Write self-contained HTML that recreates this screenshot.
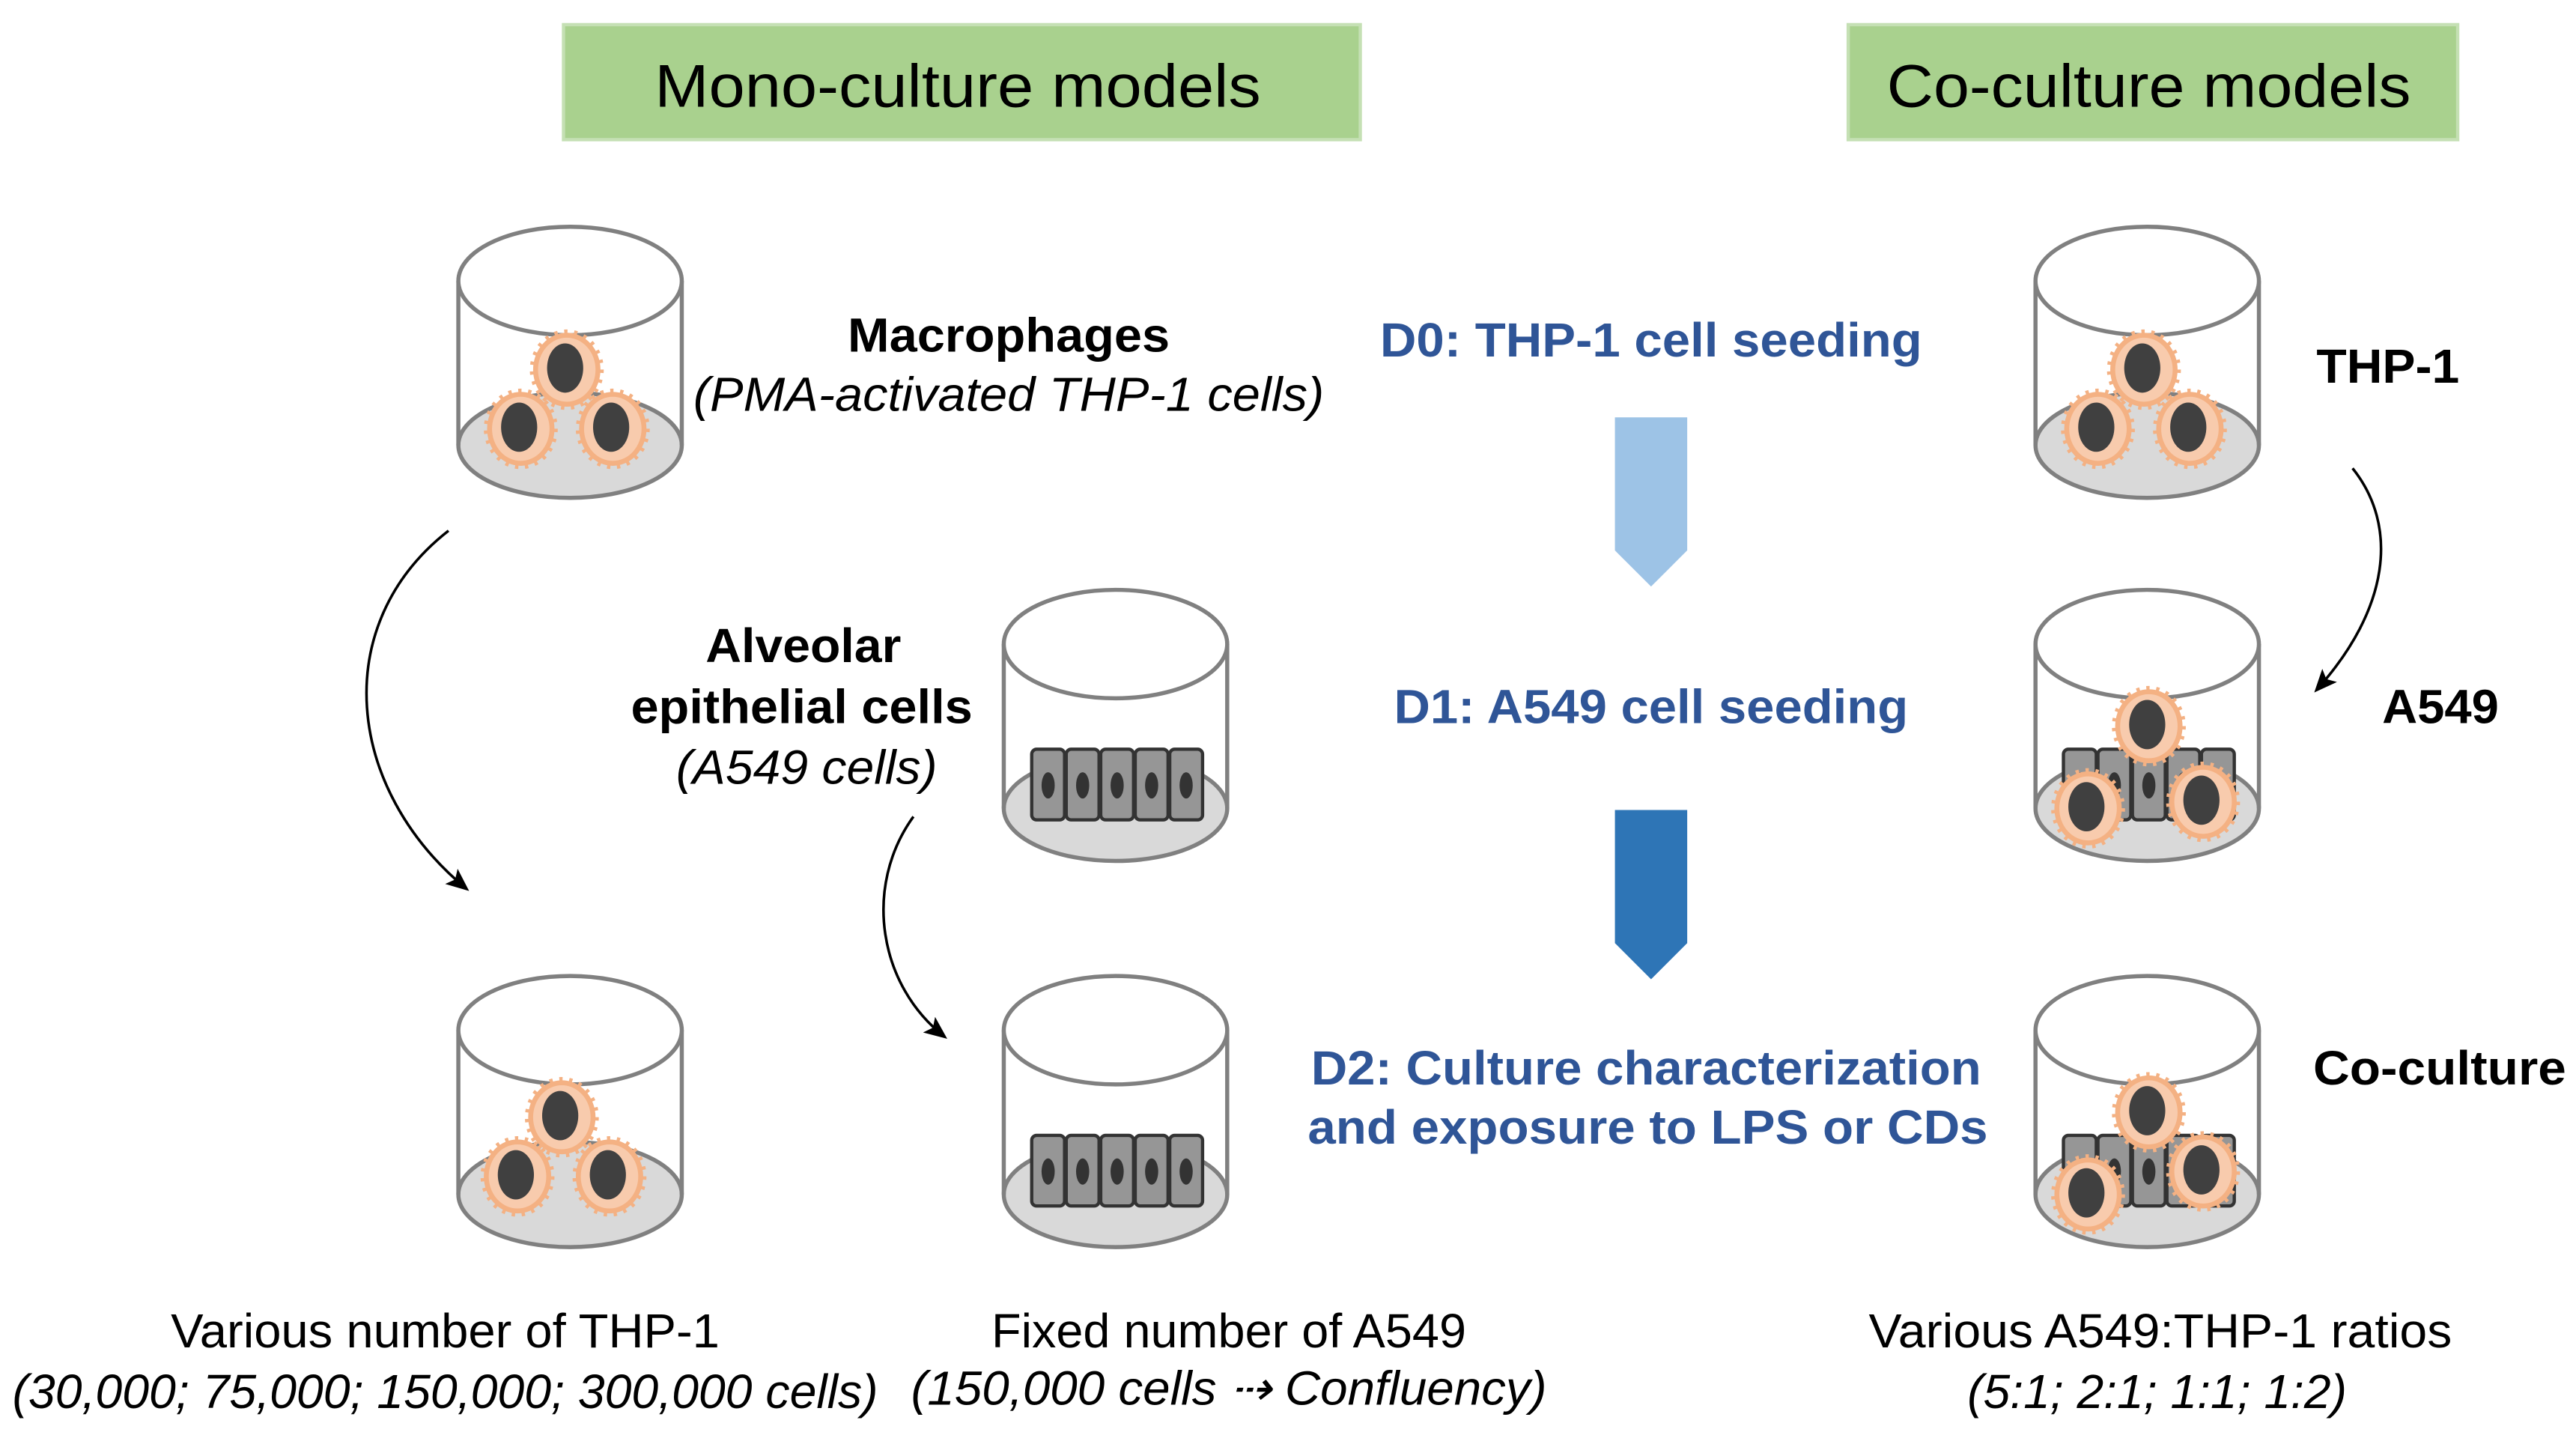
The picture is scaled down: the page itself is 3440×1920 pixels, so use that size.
<!DOCTYPE html>
<html><head><meta charset="utf-8"><style>
html,body{margin:0;padding:0;background:#fff;}
svg{display:block;}
text{font-family:"Liberation Sans",Arial,sans-serif;}
</style></head><body>
<svg width="3440" height="1920" viewBox="0 0 1568 875.2" preserveAspectRatio="none" xmlns="http://www.w3.org/2000/svg">
<defs>
  <g id="dish">
    <ellipse cx="0" cy="100" rx="68" ry="32" fill="#d9d9d9" stroke="#808080" stroke-width="2.5"/>
    <line x1="-68" y1="0" x2="-68" y2="100" stroke="#808080" stroke-width="2.5"/>
    <line x1="68" y1="0" x2="68" y2="100" stroke="#808080" stroke-width="2.5"/>
    <ellipse cx="0" cy="0" rx="68" ry="33" fill="#fff" stroke="#808080" stroke-width="2.5"/>
  </g>
  <g id="mac">
    <ellipse cx="0" cy="0" rx="19" ry="21" fill="#f8cbad" stroke="#f4b183" stroke-width="3"/>
    <ellipse cx="0" cy="0" rx="21" ry="23" fill="none" stroke="#f4b183" stroke-width="3" stroke-dasharray="2 4"/>
    <ellipse cx="-1" cy="-1" rx="11" ry="15" fill="#404040"/>
  </g>
  <g id="epi1">
    <rect x="-10" y="-21" width="20" height="43" rx="3" fill="#969696" stroke="#333" stroke-width="2"/>
    <ellipse cx="0" cy="1" rx="4" ry="8" fill="#333"/>
  </g>
  <g id="epirow">
    <use href="#epi1" x="0"/><use href="#epi1" x="21"/><use href="#epi1" x="42"/><use href="#epi1" x="63"/><use href="#epi1" x="84"/>
  </g>
  <marker id="ah" markerWidth="14" markerHeight="12" refX="12" refY="6" orient="auto" markerUnits="userSpaceOnUse">
    <path d="M0,0 L14,6 L0,12 L3,6 z" fill="#000"/>
  </marker>
</defs>

<rect x="343" y="15" width="485" height="70" fill="#a9d18e" stroke="#c5e0b4" stroke-width="2"/>
<text x="583" y="65" font-size="37" text-anchor="middle" textLength="369" lengthAdjust="spacingAndGlyphs">Mono-culture models</text>
<rect x="1125" y="15" width="371" height="70" fill="#a9d18e" stroke="#c5e0b4" stroke-width="2"/>
<text x="1308" y="65" font-size="37" text-anchor="middle" textLength="319" lengthAdjust="spacingAndGlyphs">Co-culture models</text>

<use href="#dish" x="347" y="171"/>
<use href="#mac" x="345" y="225"/><use href="#mac" x="317" y="261"/><use href="#mac" x="373" y="261"/>
<use href="#dish" x="347" y="627"/>
<use href="#mac" x="342" y="680"/><use href="#mac" x="315" y="716"/><use href="#mac" x="371" y="716"/>
<use href="#dish" x="679" y="392"/>
<use href="#epirow" x="638" y="477"/>
<use href="#dish" x="679" y="627"/>
<use href="#epirow" x="638" y="712"/>
<use href="#dish" x="1307" y="171"/>
<use href="#mac" x="1305" y="225"/><use href="#mac" x="1277" y="261"/><use href="#mac" x="1333" y="261"/>
<use href="#dish" x="1307" y="392"/>
<use href="#epirow" x="1266" y="477"/>
<use href="#mac" x="1308" y="442"/><use href="#mac" x="1271" y="492"/><use href="#mac" x="1341" y="488"/>
<use href="#dish" x="1307" y="627"/>
<use href="#epirow" x="1266" y="712"/>
<use href="#mac" x="1308" y="677"/><use href="#mac" x="1271" y="727"/><use href="#mac" x="1341" y="713"/>

<path d="M273,323 C200,380 210,480 284,541" fill="none" stroke="#000" stroke-width="1.6" marker-end="url(#ah)"/>
<path d="M556,497 C525,540 535,600 575,631" fill="none" stroke="#000" stroke-width="1.6" marker-end="url(#ah)"/>
<path d="M1432,285 C1460,320 1455,370 1410,420" fill="none" stroke="#000" stroke-width="1.6" marker-end="url(#ah)"/>

<path d="M983,254 L1027,254 L1027,335 L1005,357 L983,335 Z" fill="#9dc3e6"/>
<path d="M983,493 L1027,493 L1027,574 L1005,596 L983,574 Z" fill="#2e75b6"/>

<g font-size="29" fill="#000" lengthAdjust="spacingAndGlyphs">
<text x="614" y="214" font-weight="bold" text-anchor="middle" textLength="196" lengthAdjust="spacingAndGlyphs">Macrophages</text>
<text x="614" y="250" font-style="italic" text-anchor="middle" textLength="384" lengthAdjust="spacingAndGlyphs">(PMA-activated THP-1 cells)</text>
<text x="489" y="403" font-weight="bold" text-anchor="middle" textLength="119" lengthAdjust="spacingAndGlyphs">Alveolar</text>
<text x="488" y="440" font-weight="bold" text-anchor="middle" textLength="208" lengthAdjust="spacingAndGlyphs">epithelial cells</text>
<text x="491" y="477" font-style="italic" text-anchor="middle" textLength="159" lengthAdjust="spacingAndGlyphs">(A549 cells)</text>
<text x="1410" y="233" font-weight="bold" textLength="87" lengthAdjust="spacingAndGlyphs">THP-1</text>
<text x="1450" y="440" font-weight="bold" textLength="71" lengthAdjust="spacingAndGlyphs">A549</text>
<text x="1408" y="660" font-weight="bold" textLength="154" lengthAdjust="spacingAndGlyphs">Co-culture</text>
<text x="271" y="820" text-anchor="middle" textLength="334" lengthAdjust="spacingAndGlyphs">Various number of THP-1</text>
<text x="271" y="857" font-style="italic" text-anchor="middle" textLength="527" lengthAdjust="spacingAndGlyphs">(30,000; 75,000; 150,000; 300,000 cells)</text>
<text x="748" y="820" text-anchor="middle" textLength="289" lengthAdjust="spacingAndGlyphs">Fixed number of A549</text>
<text x="748" y="855" font-style="italic" text-anchor="middle" textLength="387" lengthAdjust="spacingAndGlyphs">(150,000 cells ⇢ Confluency)</text>
<text x="1315" y="820" text-anchor="middle" textLength="355" lengthAdjust="spacingAndGlyphs">Various A549:THP-1 ratios</text>
<text x="1313" y="857" font-style="italic" text-anchor="middle" textLength="231" lengthAdjust="spacingAndGlyphs">(5:1; 2:1; 1:1; 1:2)</text>
</g>
<g font-size="29" fill="#2f5597" font-weight="bold" text-anchor="middle">
<text x="1005" y="217" textLength="330" lengthAdjust="spacingAndGlyphs">D0: THP-1 cell seeding</text>
<text x="1005" y="440" textLength="313" lengthAdjust="spacingAndGlyphs">D1: A549 cell seeding</text>
<text x="1002" y="660" textLength="408" lengthAdjust="spacingAndGlyphs">D2: Culture characterization</text>
<text x="1003" y="696" textLength="414" lengthAdjust="spacingAndGlyphs">and exposure to LPS or CDs</text>
</g>
</svg>
</body></html>
